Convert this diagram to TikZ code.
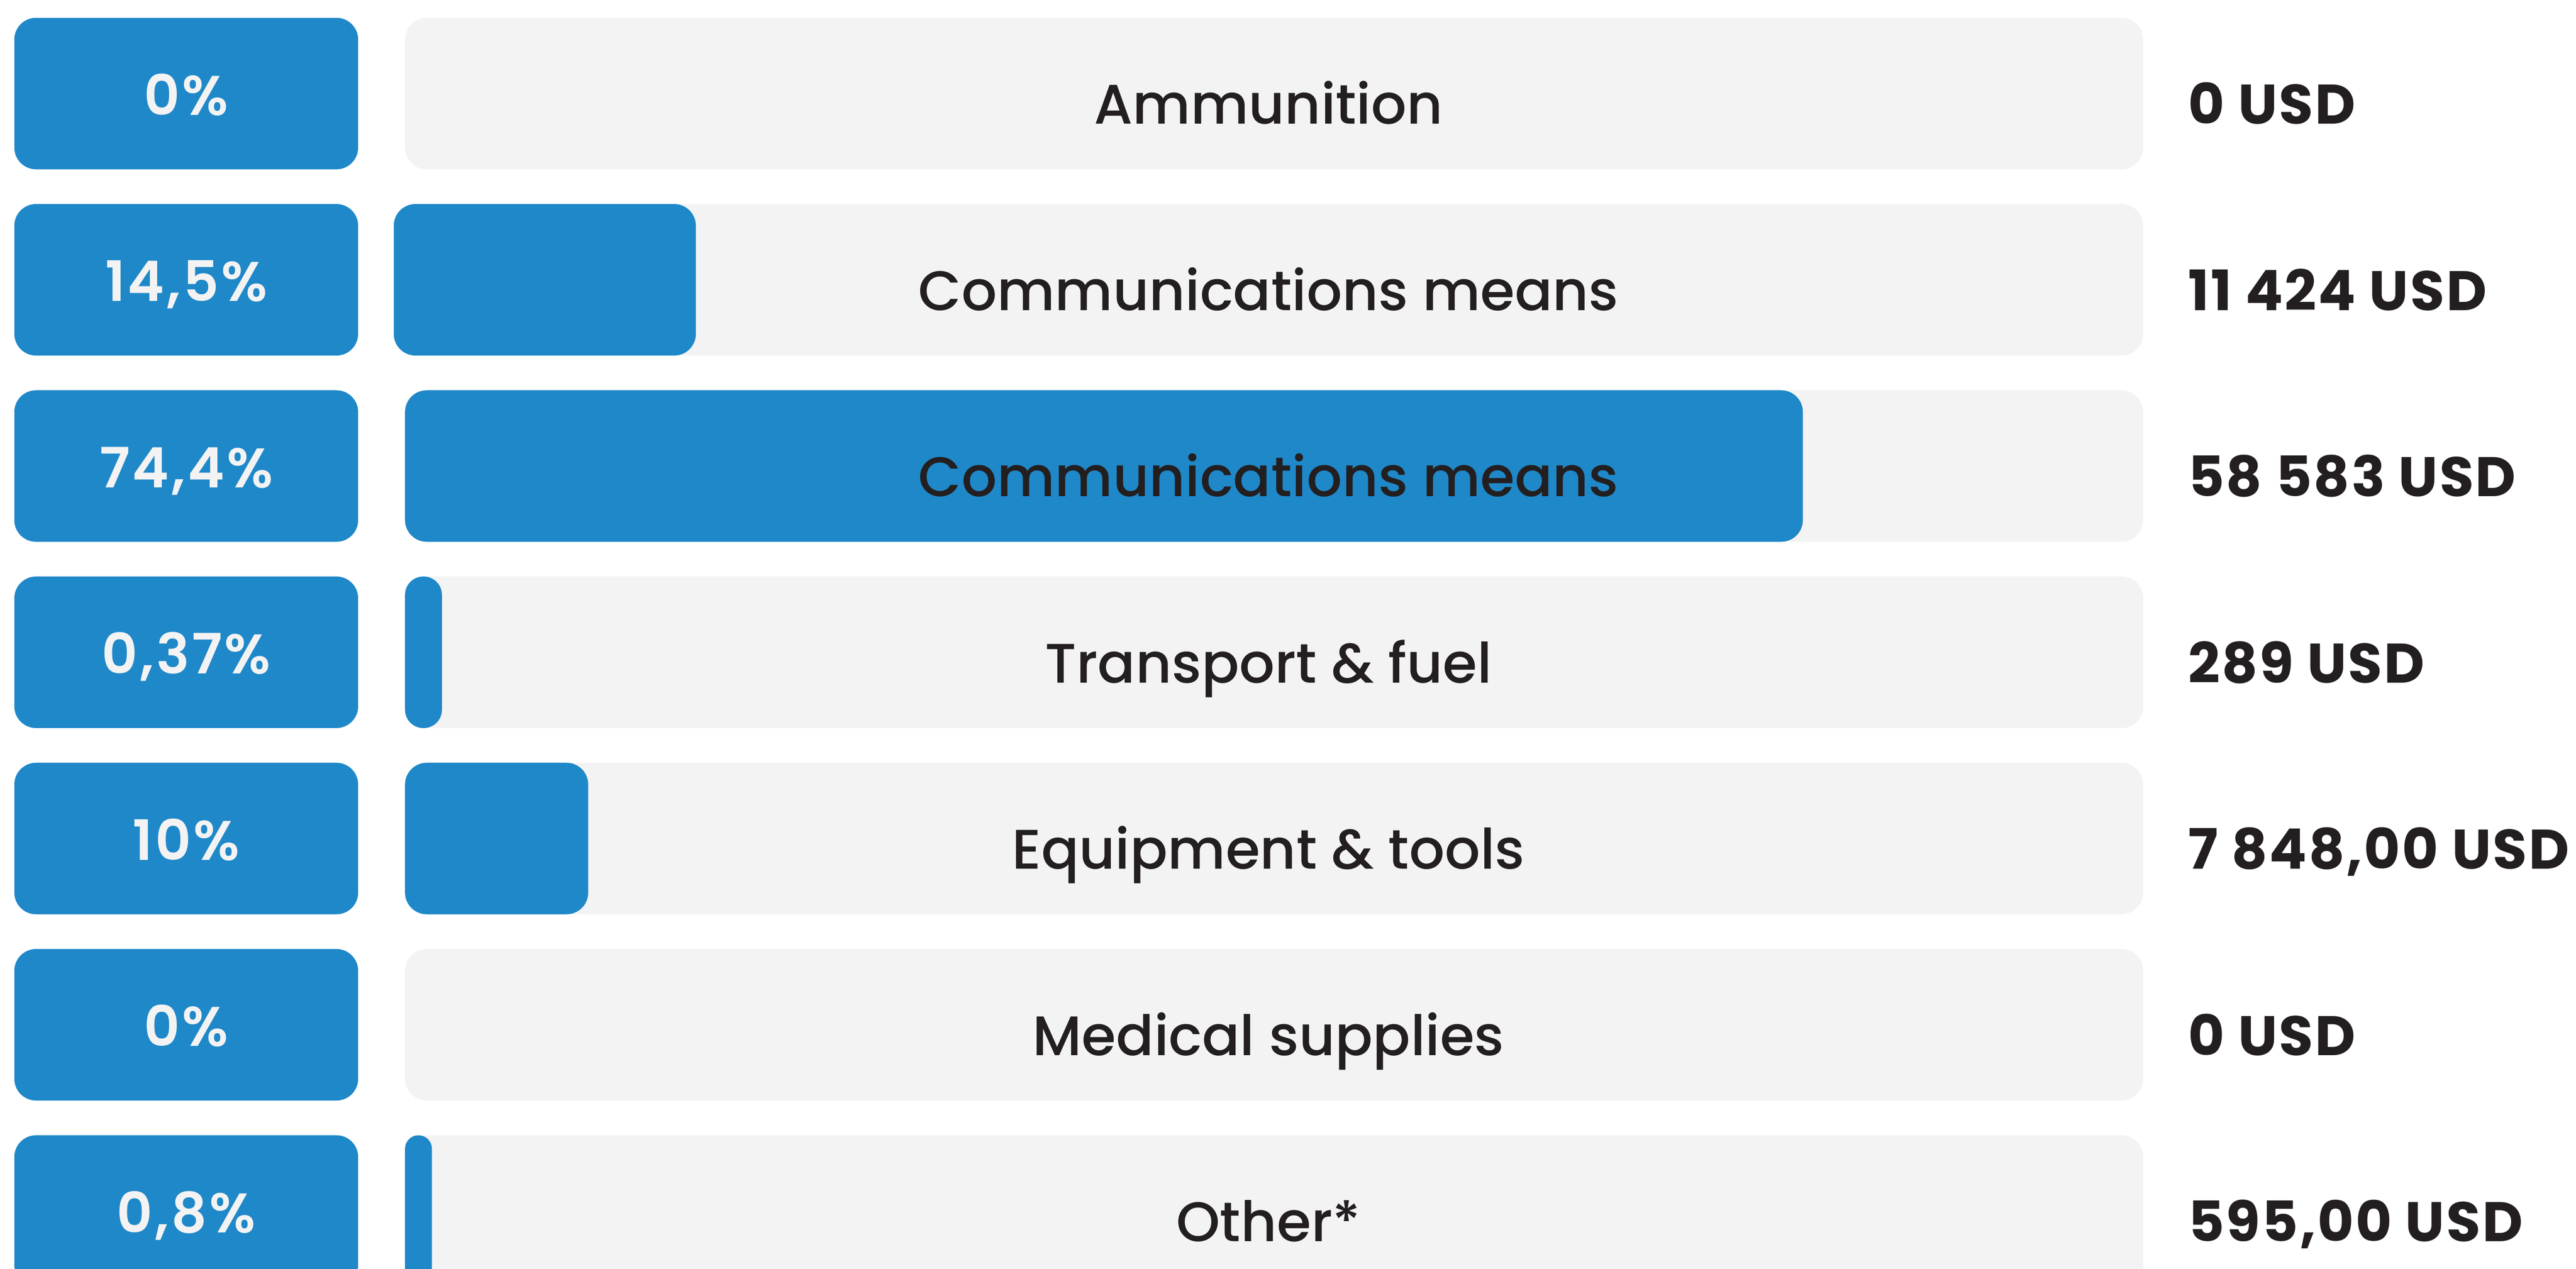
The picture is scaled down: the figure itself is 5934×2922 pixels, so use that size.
\documentclass[tikz,border=0pt]{standalone}
\usepackage{fontspec}
\setmainfont{Poppins}
\newfontfamily\labelfont{Poppins Medium}
\newfontfamily\pctfont[LetterSpace=4]{Poppins SemiBold}
\newfontfamily\usdfont[LetterSpace=3]{Poppins Bold}

\definecolor{barblue}{RGB}{31,136,201}
\definecolor{trackgray}{RGB}{243,243,243}
\definecolor{inkdark}{RGB}{35,31,32}

\tikzset{
    pctbox/.style={fill=barblue, rounded corners=0.5cm},
    track/.style={fill=trackgray, rounded corners=0.5cm},
    fillbar/.style={fill=barblue, rounded corners=#1},
    pct/.style={anchor=base, inner sep=0pt, text=trackgray, font=\pctfont\fontsize{36.5pt}{40pt}\selectfont},
    item/.style={anchor=base, inner sep=0pt, text=inkdark, font=\labelfont\fontsize{36.5pt}{40pt}\selectfont},
    usd/.style={anchor=base west, inner sep=0pt, text=inkdark, font=\usdfont\fontsize{36.5pt}{40pt}\selectfont}
}

\begin{document}
\begin{tikzpicture}[x=0.01cm, y=-0.01cm]

        \useasboundingbox (0,0) rectangle (5934,2922);
        \clip (0,0) rectangle (5934,2922);

        % Boxes and tracks
        \foreach \i in {0,...,6}{
            \pgfmathsetmacro\rowtop{41+429*\i}
            \fill[pctbox] (33,\rowtop) rectangle ++(792,349);
            \fill[track] (933,\rowtop) rectangle ++(4004,349);
        }

        % Filled bars
        \fill[fillbar=0.5cm] (907,470) rectangle (1603,819);
        \fill[fillbar=0.5cm] (933,899) rectangle (4153,1248);
        \fill[fillbar=0.42cm] (933,1328) rectangle (1018,1677);
        \fill[fillbar=0.5cm] (933,1757) rectangle (1355,2106);
        \fill[fillbar=0.31cm] (933,2615) rectangle (995,2964);

        % Texts
        \foreach \p/\lab/\val [count=\i from 0] in {
                {0\%}/Ammunition/{0 USD},
                {14,5\%}/Communications means/{11 424 USD},
                {74,4\%}/Communications means/{58 583 USD},
                {0,37\%}/Transport \& fuel/{289 USD},
                {10\%}/Equipment \& tools/{7 848,00 USD},
                {0\%}/Medical supplies/{0 USD},
                {0,8\%}/Other*/{595,00 USD}}{
            \pgfmathsetmacro\rowtop{41+429*\i}
            \node[pct] (pct\i) at (429,\rowtop+224) {\p};
            \node[item] (item\i) at (2922,\rowtop+245) {\lab};
            \node[usd] (usd\i) at (5040,\rowtop+245) {\val};
        }

    \end{tikzpicture}
\end{document}
